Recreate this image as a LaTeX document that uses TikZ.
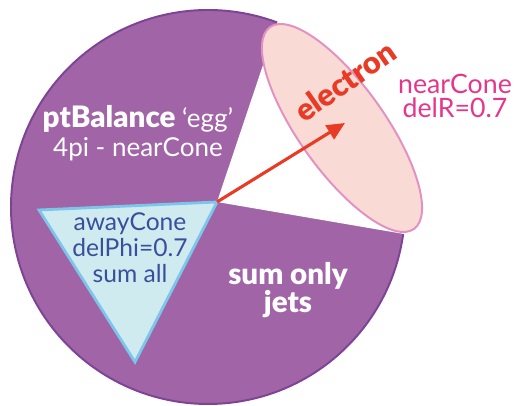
\documentclass[tikz,border=0pt]{standalone}
\usepackage{fontspec}
\setmainfont{Lato}[BoldFont={Lato Black}]
\usetikzlibrary{arrows.meta,positioning}
\definecolor{EggPurple}{HTML}{A064A7}
\definecolor{EggEdge}{HTML}{7D4495}
\definecolor{AwayCyan}{HTML}{CFEBEF}
\definecolor{AwayEdge}{HTML}{7CC6EC}
\definecolor{AwayText}{HTML}{3A4F9C}
\definecolor{NearPink}{HTML}{F9DAD5}
\definecolor{NearEdge}{HTML}{E391C2}
\definecolor{NearText}{HTML}{E5368C}
\definecolor{ElecRed}{HTML}{E93A26}

\begin{document}
\begin{tikzpicture}[
        x=0.025cm,y=0.025cm,
        txt/.style={align=center,inner sep=0pt,font=\fontsize{18.5}{21}\selectfont},
        arrow/.style={-{Triangle[length=4.5mm,width=4mm]},line width=2.2pt,color=ElecRed}
      ]
        \useasboundingbox (0,0) rectangle (515,406);
        \coordinate (apex) at (217,204);
        \coordinate (tip) at (345,283);
        % the egg
        \filldraw[fill=EggPurple,draw=EggEdge,line width=1.4pt] (208,199) circle[radius=197];
        \fill[white] (apex) -- (309,478) -- (509,154) -- cycle;
        % near cone
        \filldraw[fill=NearPink,draw=NearEdge,line width=1.4pt,rotate around={-54.5:(342,278)}]
          (342,278) ellipse (124 and 43);
        % away cone
        \filldraw[fill=AwayCyan,draw=AwayEdge,line width=2pt] (39,196) -- (apex) -- (135,44) -- cycle;
        \node[txt,text=white] (egg) at (138,273)
          {{\fontsize{21}{21}\selectfont\bfseries ptBalance} ‘egg’\\4pi - nearCone};
        \node[txt,text=AwayText,font=\fontsize{17.5}{18.5}\selectfont] (away) at (130,158)
          {awayCone\\delPhi=0.7\\sum all};
        \node[txt,text=white,font=\bfseries\fontsize{21}{18}\selectfont] (jets) at (288,116)
          {sum only\\jets};
        \node[txt,text=NearText,font=\fontsize{19}{17.5}\selectfont] (near) at (455,310)
          {nearCone\\delR=0.7};
        \node[text=ElecRed,font=\bfseries\fontsize{22}{22}\selectfont,rotate=35,inner sep=0pt]
          (elec) at (345,325) {electron};
        \draw[arrow] (apex) -- (tip);
      \end{tikzpicture}
\end{document}
